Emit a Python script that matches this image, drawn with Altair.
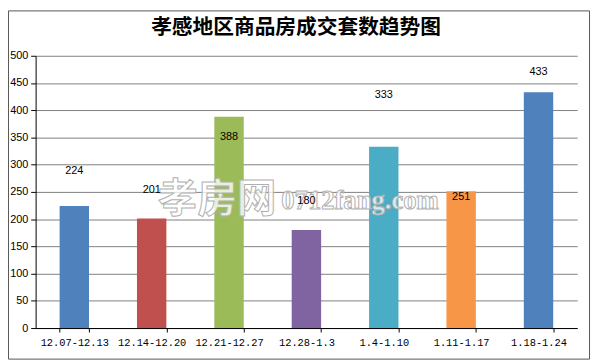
import altair as alt
import pandas as pd

title_text = "孝感地区商品房成交套数趋势图"
categories = ["12.07-12.13", "12.14-12.20", "12.21-12.27", "12.28-1.3",
              "1.4-1.10", "1.11-1.17", "1.18-1.24"]
values = [224, 201, 388, 180, 333, 251, 433]
# where each value label sits in axis units
label_at = [288, 253, 350, 233, 427, 240, 471]
colors = ["#4F81BD", "#C0504D", "#9BBB59", "#8064A2", "#4BACC6", "#F79646", "#4F81BD"]
y_ticks = list(range(0, 501, 50))
watermark_cn = "孝房网"
watermark_en = "0712fang.com"

df = pd.DataFrame({"cat": categories, "value": values, "label_at": label_at})

x_axis = alt.Axis(labelAngle=0, tickBand="extent", tickSize=4, grid=False,
                  labelFont="Liberation Mono", labelFontSize=10.5, labelColor="#000000",
                  labelPadding=6, domainColor="#000000", tickColor="#000000",
                  labelOverlap=False)
y_axis = alt.Axis(values=y_ticks, tickCount=20, grid=True, gridColor="#7f7f7f",
                  gridWidth=1, labelOverlap=False,
                  tickSize=5, labelFont="Liberation Sans", labelFontSize=11,
                  labelColor="#000000", labelPadding=3,
                  domainColor="#000000", tickColor="#000000")
x_scale = alt.Scale(paddingInner=0.62, paddingOuter=0.31)
y_scale = alt.Scale(domain=[0, 500], nice=False)

bars = alt.Chart(df).mark_bar().encode(
    x=alt.X("cat:N", sort=categories, title=None, scale=x_scale, axis=x_axis),
    y=alt.Y("value:Q", scale=y_scale, title=None, axis=y_axis),
    color=alt.Color("cat:N", scale=alt.Scale(domain=categories, range=colors), legend=None),
)

labels = alt.Chart(df).mark_text(font="Liberation Sans", fontSize=11, color="#000000",
                                 baseline="middle").encode(
    x=alt.X("cat:N", sort=categories, title=None, scale=x_scale, axis=x_axis),
    y=alt.Y("label_at:Q", scale=y_scale, title=None, axis=y_axis),
    text="value:Q",
)

one = pd.DataFrame({"t": [title_text], "w1": [watermark_cn], "w2": [watermark_en]})

wm1 = alt.Chart(one).mark_text(font="Noto Sans CJK SC", fontSize=40, fontWeight="bold",
                               fill="#ffffff", fillOpacity=0.8, stroke="#b0b0b0",
                               strokeWidth=1, baseline="middle", align="center").encode(
    text="w1:N", x=alt.value(184), y=alt.value(146))
wm2 = alt.Chart(one).mark_text(font="Liberation Serif", fontSize=27, fontWeight="bold",
                               fill="#ffffff", fillOpacity=0.8, stroke="#b0b0b0",
                               strokeWidth=1, baseline="middle", align="left").encode(
    text="w2:N", x=alt.value(249), y=alt.value(147))

title = alt.Chart(one).mark_text(font="Noto Sans CJK SC", fontSize=21, fontWeight="bold",
                                 color="#000000", baseline="middle", align="center").encode(
    text="t:N", x=alt.value(264), y=alt.value(-28))

frame = alt.Chart(one).mark_rect(filled=False, stroke="#555555", strokeWidth=1).encode(
    x=alt.value(-27.5), x2=alt.value(561.5), y=alt.value(-45.5), y2=alt.value(307.5))

chart = alt.layer(frame, bars, wm1, wm2, labels, title).properties(
    width=549, height=276,
    autosize=alt.AutoSizeParams(type="none"),
    padding={"left": 28, "top": 46, "right": 15, "bottom": 33},
).configure_view(strokeWidth=0)

chart.save("out.html", embed_options={"renderer": "svg", "actions": False})
